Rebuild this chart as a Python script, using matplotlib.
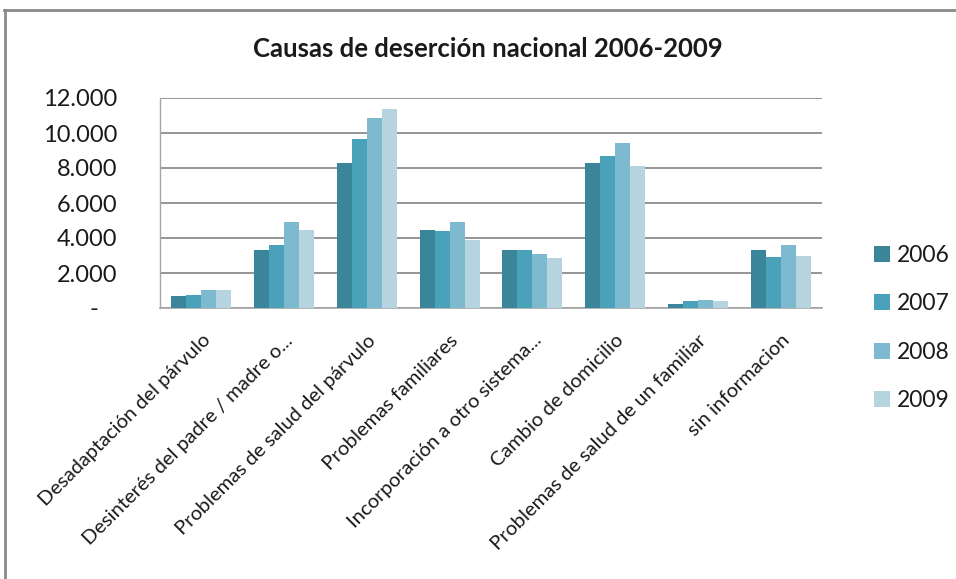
import matplotlib
matplotlib.use("Agg")
import matplotlib.pyplot as plt
import numpy as np
from matplotlib.lines import Line2D
from matplotlib.patches import Patch

categories = [
    "Desadaptación del párvulo",
    "Desinterés del padre / madre o...",
    "Problemas de salud del párvulo",
    "Problemas familiares",
    "Incorporación a otro sistema...",
    "Cambio de domicilio",
    "Problemas de salud de un familiar",
    "sin informacion",
]
years = ["2006", "2007", "2008", "2009"]
v2006 = [670, 3315, 8310, 4475, 3315, 8310, 250, 3315]
v2007 = [745, 3620, 9680, 4400, 3315, 8670, 380, 2935]
v2008 = [1030, 4915, 10860, 4915, 3105, 9450, 460, 3600]
v2009 = [1030, 4475, 11355, 3905, 2875, 8135, 380, 2950]
yticks = [0, 2000, 4000, 6000, 8000, 10000, 12000]
ytick_labels = ["-   ", "2.000", "4.000", "6.000", "8.000", "10.000", "12.000"]
title = "Causas de deserción nacional 2006-2009"

colors = ["#3A8599", "#4AA2BA", "#7EBACF", "#B6D4E0"]
series = [v2006, v2007, v2008, v2009]

plt.rcParams['font.family'] = ['Lato', 'DejaVu Sans']

W, H = 956, 579
fig = plt.figure(figsize=(W / 100, H / 100), dpi=100)
ax = fig.add_axes([160 / W, (H - 308) / H, (822 - 160) / W, (308 - 98) / H])

x = np.arange(len(categories))
bw = 0.181
for i, (vals, c) in enumerate(zip(series, colors)):
    ax.bar(x + (i - 1.5) * bw, vals, width=bw, color=c, label=years[i], zorder=3)

ax.set_xlim(-0.5, len(categories) - 0.5)
ax.set_ylim(0, 12000)
ax.set_yticks(yticks)
ax.set_yticklabels(ytick_labels, fontsize=17, color="#1a1a1a")
ax.yaxis.grid(True, color="#8c8c8c", linewidth=1.3, zorder=0)
ax.set_axisbelow(True)
ax.tick_params(axis='y', length=0, pad=31)
ax.tick_params(axis='x', length=0, pad=17)
ax.set_xticks(x)
ax.set_xticklabels(categories, rotation=45, ha='right', rotation_mode='anchor',
                   fontsize=14.5, color="#1a1a1a")
for s in ["top", "right"]:
    ax.spines[s].set_visible(False)
ax.spines["left"].set_color("#a6a6a6")
ax.spines["bottom"].set_color("#a6a6a6")
ax.spines["left"].set_linewidth(1.0)
ax.spines["bottom"].set_linewidth(1.2)

fig.text(488 / W, 1 - 49 / H, title, ha='center', va='center',
         fontsize=18.5, fontweight='bold', color="#1a1a1a")

handles = [Patch(facecolor=c, edgecolor='none') for c in colors]
fig.legend(handles, years, loc='center left', bbox_to_anchor=(863 / W, 1 - 328 / H),
           frameon=False, fontsize=16.5, handlelength=0.68, handleheight=0.68,
           handletextpad=0.3, labelspacing=1.2, borderpad=0, labelcolor="#1a1a1a")

# frame lines
fig.add_artist(Line2D([4 / W, 1], [1 - 10 / H, 1 - 10 / H], transform=fig.transFigure,
                      color="#8a8a8a", linewidth=2))
fig.add_artist(Line2D([5 / W, 5 / W], [0, 1 - 10 / H], transform=fig.transFigure,
                      color="#8a8a8a", linewidth=2))

fig.savefig("out.png", dpi=100, facecolor="white")
